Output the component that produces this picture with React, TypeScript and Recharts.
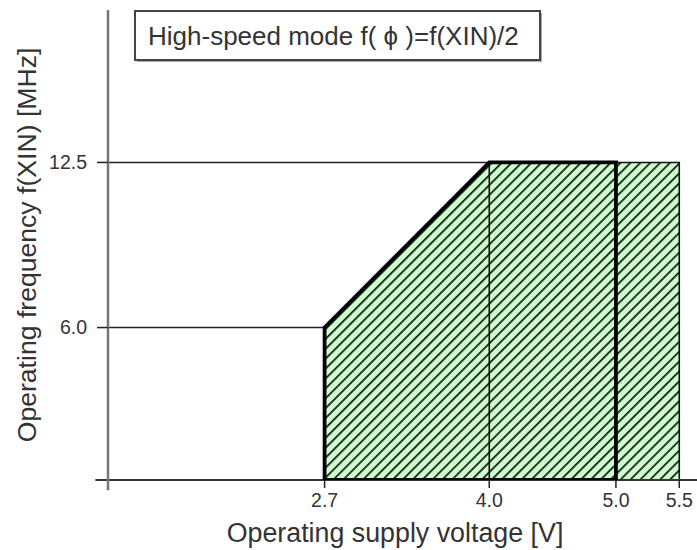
import React from "react";
import { ComposedChart, Area, Line, XAxis, YAxis, ReferenceLine } from "recharts";

const voltTicks = [2.7, 4.0, 5.0, 5.5];
const freqTicks = [6.0, 12.5];
const mainEnvelope = [
  { v: 2.7, f: 6.0 },
  { v: 4.0, f: 12.5 },
  { v: 5.0, f: 12.5 },
];
const extEnvelope = [
  { v: 5.0, f: 12.5 },
  { v: 5.5, f: 12.5 },
];
const mainOutline = [
  { v: 2.7, f: 0 },
  { v: 2.7, f: 6.0 },
  { v: 4.0, f: 12.5 },
  { v: 5.0, f: 12.5 },
  { v: 5.0, f: 0 },
  { v: 2.7, f: 0 },
];
const divider = [
  { v: 4.0, f: 0 },
  { v: 4.0, f: 12.5 },
];
const extOutline = [
  { v: 5.0, f: 12.5 },
  { v: 5.5, f: 12.5 },
  { v: 5.5, f: 0 },
];
const X_MIN = 0.99;
const X_MAX = 5.64;
const Y_MIN = 0;
const Y_MAX = 18.5;

const title = "High-speed mode f( \u03d5 )=f(XIN)/2";
const xTitle = "Operating supply voltage [V]";
const yTitle = "Operating frequency f(XIN) [MHz]";

const FONT = "'Liberation Sans', Arial, Helvetica, sans-serif";
const TXT = "#333";

export default function App() {
  return (
    <div style={{ position: "absolute", left: 0, top: 0, width: 697, height: 550, background: "#fff", fontFamily: FONT }}>
      <ComposedChart
        width={697}
        height={550}
        margin={{ top: 10, right: 0, bottom: 0, left: 0 }}
        style={{ fontFamily: FONT }}
      >
        <defs>
          <pattern id="hatch" patternUnits="userSpaceOnUse" width="7" height="7" patternTransform="rotate(45)">
            <rect x="0" y="0" width="7" height="7" fill="#ccffcc" />
            <line x1="0.8" y1="0" x2="0.8" y2="7" stroke="#111" strokeWidth="1.8" />
          </pattern>
        </defs>
        <XAxis
          type="number"
          dataKey="v"
          domain={[X_MIN, X_MAX]}
          allowDataOverflow
          ticks={voltTicks}
          tickFormatter={(t: number) => t.toFixed(1)}
          axisLine={false}
          tickLine={{ stroke: "#222", strokeWidth: 1.5 }}
          tickSize={8}
          tickMargin={5}
          tick={{ fill: TXT, fontSize: 19.5, fontFamily: FONT }}
          height={70}
          interval={0}
          label={{
            content: () => (
              <text x={395} y={542} textAnchor="middle" fill={TXT} fontSize={26.8} fontFamily={FONT}>
                {xTitle}
              </text>
            ),
          }}
        />
        <YAxis
          type="number"
          dataKey="f"
          domain={[Y_MIN, Y_MAX]}
          allowDataOverflow
          ticks={freqTicks}
          tickFormatter={(t: number) => t.toFixed(1)}
          axisLine={false}
          tickLine={{ stroke: "#222", strokeWidth: 1.5 }}
          tickSize={11}
          tickMargin={10}
          tick={{ fill: TXT, fontSize: 19.5, fontFamily: FONT }}
          width={108}
          interval={0}
          label={{
            content: () => (
              <text
                x={36}
                y={245}
                transform="rotate(-90 36 245)"
                textAnchor="middle"
                fill={TXT}
                fontSize={26.6}
                fontFamily={FONT}
              >
                {yTitle}
              </text>
            ),
          }}
        />
        <Area
          data={mainEnvelope}
          dataKey="f"
          type="linear"
          stroke="none"
          fill="url(#hatch)"
          fillOpacity={1}
          baseValue={0}
          isAnimationActive={false}
          dot={false}
          activeDot={false}
        />
        <Area
          data={extEnvelope}
          dataKey="f"
          type="linear"
          stroke="none"
          fill="url(#hatch)"
          fillOpacity={1}
          baseValue={0}
          isAnimationActive={false}
          dot={false}
          activeDot={false}
        />
        <ReferenceLine
          segment={[{ x: X_MIN, y: freqTicks[1] }, { x: 4.0, y: freqTicks[1] }]}
          stroke="#222"
          strokeWidth={1.5}
          ifOverflow="visible"
        />
        <ReferenceLine
          segment={[{ x: X_MIN, y: freqTicks[0] }, { x: 2.7, y: freqTicks[0] }]}
          stroke="#222"
          strokeWidth={1.5}
          ifOverflow="visible"
        />
        <Line data={divider} dataKey="f" type="linear" stroke="#111" strokeWidth={1.6} dot={false} activeDot={false} isAnimationActive={false} />
        <Line data={extOutline} dataKey="f" type="linear" stroke="#111" strokeWidth={1.6} dot={false} activeDot={false} isAnimationActive={false} />
        <ReferenceLine
          segment={[{ x: X_MIN - 0.1, y: 0 }, { x: X_MAX, y: 0 }]}
          stroke="#333"
          strokeWidth={2}
          ifOverflow="visible"
        />
        <ReferenceLine
          segment={[{ x: X_MIN, y: -0.4 }, { x: X_MIN, y: Y_MAX }]}
          stroke="#777"
          strokeWidth={2.5}
          ifOverflow="visible"
        />
        <Line data={mainOutline} dataKey="f" type="linear" stroke="#000" strokeWidth={3.8} strokeLinejoin="miter" dot={false} activeDot={false} isAnimationActive={false} />
        <rect x={137} y={13} width={405} height={49} fill="#aaa" />
        <rect x={135} y={11} width={405} height={49} fill="#fff" stroke="#444" strokeWidth={2} />
        <text x={148} y={45} fill={TXT} fontSize={26} fontFamily={FONT}>
          {title}
        </text>
      </ComposedChart>
    </div>
  );
}
